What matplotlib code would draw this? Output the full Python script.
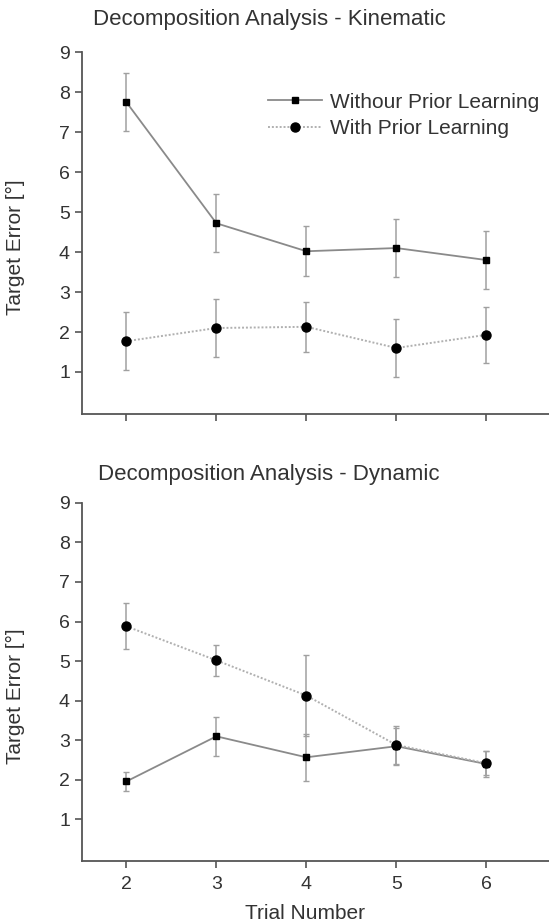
import matplotlib.pyplot as plt

plt.rcParams['font.family'] = ['Liberation Sans', 'DejaVu Sans']

trials = [2, 3, 4, 5, 6]

# kinematic panel
kin_without = [7.75, 4.72, 4.02, 4.10, 3.80]
kin_without_err = [0.72, 0.72, 0.62, 0.73, 0.73]
kin_with = [1.77, 2.10, 2.13, 1.60, 1.93]
kin_with_err = [0.72, 0.72, 0.62, 0.72, 0.70]

# dynamic panel
dyn_without = [1.96, 3.10, 2.57, 2.85, 2.40]
dyn_without_err = [0.23, 0.50, 0.60, 0.47, 0.32]
dyn_with = [5.88, 5.02, 4.13, 2.88, 2.42]
dyn_with_err = [0.58, 0.40, 1.03, 0.48, 0.30]

titles = ["Decomposition Analysis - Kinematic", "Decomposition Analysis - Dynamic"]
series_names = ["Withour Prior Learning", "With Prior Learning"]
yticks = [1, 2, 3, 4, 5, 6, 7, 8, 9]

fig = plt.figure(figsize=(5.49, 9.23), dpi=100)
ax1 = fig.add_axes([0.149, 0.5515, 0.86, 0.392])
ax2 = fig.add_axes([0.149, 0.0672, 0.86, 0.388])

def draw_panel(ax, without, without_err, withp, with_err, legend=False):
    # error bars first, lines + markers on top
    ax.errorbar(trials, without, yerr=without_err, fmt='none',
                ecolor='#a0a0a0', elinewidth=1.1, capsize=2.5)
    ax.errorbar(trials, withp, yerr=with_err, fmt='none',
                ecolor='#a0a0a0', elinewidth=1.1, capsize=2.5)
    ax.plot(trials, without, color='#8a8a8a', lw=1.3, ls='-', marker='s',
            ms=5, mfc='black', mec='black', label=series_names[0])
    ax.plot(trials, withp, color='#b0b0b0', lw=1.4, ls=(0, (1, 1)), marker='o',
            ms=6.5, mfc='black', mec='black', label=series_names[1])
    ax.set_xlim(1.505, 6.75)
    ax.set_ylim(-0.05, 9)
    ax.set_yticks(yticks)
    ax.set_xticks(trials)
    for s in ['top', 'right']:
        ax.spines[s].set_visible(False)
    for s in ['left', 'bottom']:
        ax.spines[s].set_color('#555555')
        ax.spines[s].set_linewidth(1.3)
    ax.tick_params(direction='out', length=5, width=1.2, color='#555555',
                   labelsize=14, labelcolor='#333333')
    ax.tick_params(axis='x', pad=6)
    ax.set_ylabel('Target Error [°]', fontsize=15, color='#333333')
    ax.yaxis.set_label_coords(-0.12, 0.46)
    if legend:
        ax.legend(loc='upper left', bbox_to_anchor=(0.394, 0.888), frameon=False,
                  fontsize=15, handlelength=2.6, handletextpad=0.4,
                  labelspacing=0.35, borderpad=0, borderaxespad=0,
                  labelcolor='#333333')

draw_panel(ax1, kin_without, kin_without_err, kin_with, kin_with_err, legend=True)
ax1.tick_params(axis='x', labelbottom=False)
draw_panel(ax2, dyn_without, dyn_without_err, dyn_with, dyn_with_err)
ax2.set_xlabel('Trial Number', fontsize=15, color='#333333')
ax2.xaxis.set_label_coords(0.472, -0.12)

fig.text(0.49, 0.979, titles[0], ha='center', va='center', fontsize=16, color='#333333')
fig.text(0.49, 0.486, titles[1], ha='center', va='center', fontsize=16, color='#333333')

plt.savefig('out.png', dpi=100)
